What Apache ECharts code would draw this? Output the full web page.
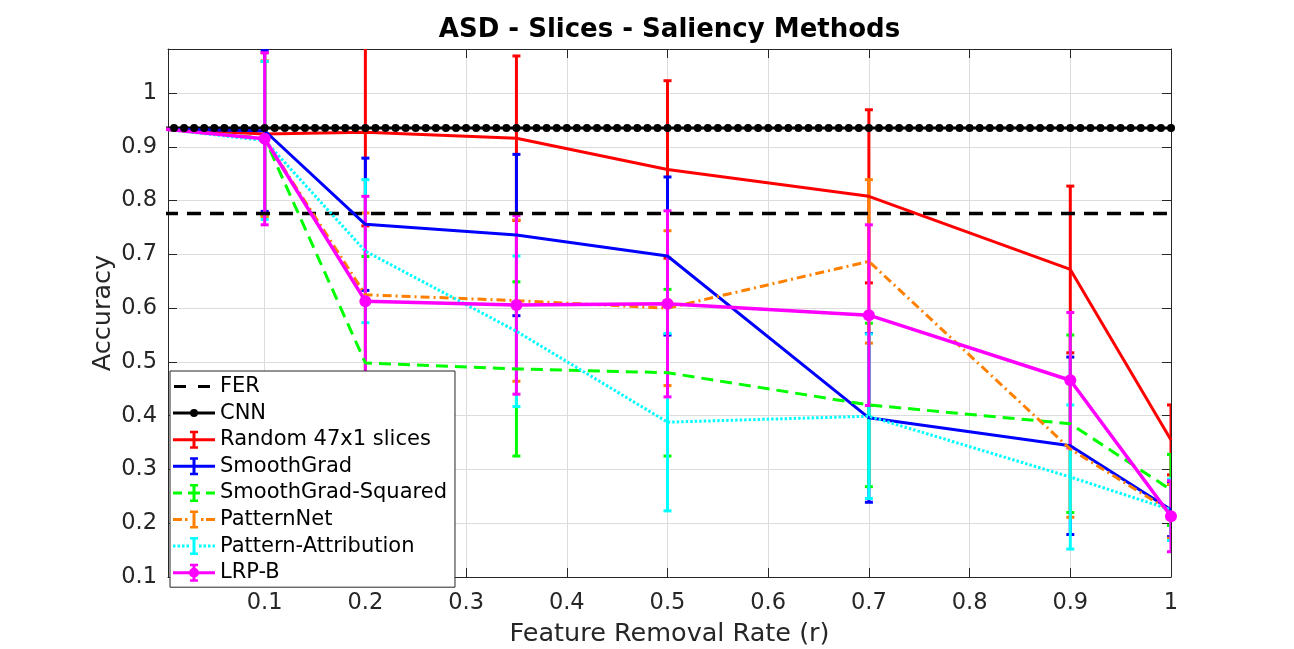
<!DOCTYPE html>
<html>
<head>
<meta charset="utf-8">
<title>ASD - Slices - Saliency Methods</title>
<script src="https://cdn.jsdelivr.net/npm/echarts@6/dist/echarts.min.js"></script>
<style>
  html, body { margin: 0; padding: 0; background: #fff; }
  #chart { width: 1294px; height: 649px; }
</style>
</head>
<body>
<div id="chart"></div>
<script>
// feature removal rates where the saliency methods were evaluated
const removalRate = [0, 0.1, 0.2, 0.35, 0.5, 0.7, 0.9, 1];

// reference lines
const ferX = [0, 1];
const ferAcc = 0.776;
const cnnAcc = 0.935;
const cnnX = [
  0, 0.01, 0.02, 0.03, 0.04, 0.05, 0.06, 0.07, 0.08, 0.09,
  0.1, 0.11, 0.12, 0.13, 0.14, 0.15, 0.16, 0.17, 0.18, 0.19,
  0.2, 0.21, 0.22, 0.23, 0.24, 0.25, 0.26, 0.27, 0.28, 0.29,
  0.3, 0.31, 0.32, 0.33, 0.34, 0.35, 0.36, 0.37, 0.38, 0.39,
  0.4, 0.41, 0.42, 0.43, 0.44, 0.45, 0.46, 0.47, 0.48, 0.49,
  0.5, 0.51, 0.52, 0.53, 0.54, 0.55, 0.56, 0.57, 0.58, 0.59,
  0.6, 0.61, 0.62, 0.63, 0.64, 0.65, 0.66, 0.67, 0.68, 0.69,
  0.7, 0.71, 0.72, 0.73, 0.74, 0.75, 0.76, 0.77, 0.78, 0.79,
  0.8, 0.81, 0.82, 0.83, 0.84, 0.85, 0.86, 0.87, 0.88, 0.89,
  0.9, 0.91, 0.92, 0.93, 0.94, 0.95, 0.96, 0.97, 0.98, 0.99, 1
];

// mean accuracy and error (half length of bar) per method
const randomMean = [0.933, 0.924, 0.927, 0.916, 0.858, 0.808, 0.672, 0.355];
const randomErr = [0, 0.151, 0.174, 0.153, 0.165, 0.161, 0.155, 0.065];

const smoothGradMean = [0.933, 0.930, 0.756, 0.736, 0.697, 0.396, 0.344, 0.225];
const smoothGradErr = [0, 0.150, 0.123, 0.150, 0.147, 0.157, 0.165, 0.050];

const sgSquaredMean = [0.933, 0.916, 0.498, 0.487, 0.480, 0.420, 0.385, 0.262];
const sgSquaredErr = [0, 0.143, 0.198, 0.162, 0.155, 0.152, 0.165, 0.066];

const patternNetMean = [0.933, 0.915, 0.625, 0.614, 0.600, 0.687, 0.338, 0.222];
const patternNetErr = [0, 0.145, 0.152, 0.150, 0.144, 0.152, 0.127, 0.050];

const patternAttrMean = [0.933, 0.912, 0.706, 0.557, 0.388, 0.399, 0.286, 0.225];
const patternAttrErr = [0, 0.147, 0.133, 0.140, 0.165, 0.153, 0.134, 0.057];

const lrpMean = [0.933, 0.915, 0.613, 0.606, 0.608, 0.587, 0.466, 0.213];
const lrpErr = [0, 0.160, 0.195, 0.166, 0.173, 0.168, 0.126, 0.066];

const legendNames = ['FER', 'CNN', 'Random 47x1 slices', 'SmoothGrad',
  'SmoothGrad-Squared', 'PatternNet', 'Pattern-Attribution', 'LRP-B'];

const font = 'DejaVu Sans';
const axisColor = '#262626';
const gridColor = '#dcdcdc';
const colors = ['#000000', '#000000', '#ff0000', '#0000ff', '#00ff00', '#ff8000', '#00ffff', '#ff00ff'];

// legend icons, all drawn in a 42x20 box (tiny corner squares keep the box size)
const box = 'M0 0h0.01v0.01h-0.01z M41.99 19.99h0.01v0.01h-0.01z ';
const solid = 'M0 8.5h42v3h-42z ';
const ibeam = 'M19.5 1h3v18h-3z M17 1h8v2.5h-8z M17 16.5h8v2.5h-8z ';
const legendIcons = [
  'path://' + box + 'M1 8.5h12v3h-12z M25 8.5h12v3h-12z',
  'path://' + box + solid + 'M17 10a4 4 0 1 1 8 0a4 4 0 1 1 -8 0z',
  'path://' + box + solid + ibeam,
  'path://' + box + solid + ibeam,
  'path://' + box + ibeam + 'M0 8.5h9v3h-9z M15 8.5h12v3h-12z M33 8.5h9v3h-9z',
  'path://' + box + ibeam + 'M0 8.5h9v3h-9z M12 8.5h2.5v3h-2.5z M28 8.5h2.5v3h-2.5z M33 8.5h9v3h-9z',
  'path://' + box + ibeam + 'M0 8.5h2.5v3h-2.5z M4.5 8.5h2.5v3h-2.5z M9 8.5h2.5v3h-2.5z M13.5 8.5h2.5v3h-2.5z M26 8.5h2.5v3h-2.5z M30.5 8.5h2.5v3h-2.5z M35 8.5h2.5v3h-2.5z M39.5 8.5h2.5v3h-2.5z',
  'path://' + box + solid + ibeam + 'M16 10a5 5 0 1 1 10 0a5 5 0 1 1 -10 0z'
];

function pairs(xs, ys) {
  return xs.map((x, i) => [x, ys[i]]);
}

function errorBar(name, color, mean, err) {
  return {
    name: name,
    type: 'custom',
    clip: true,
    z: 3,
    encode: { x: 0, y: 1 },
    data: removalRate.map((x, i) => [x, mean[i], err[i]]),
    renderItem: function (params, api) {
      const x = api.value(0);
      const y = api.value(1);
      const e = api.value(2);
      if (!(e > 0)) return null;
      const hi = api.coord([x, y + e]);
      const lo = api.coord([x, y - e]);
      const style = { stroke: color, lineWidth: 3, fill: null };
      return {
        type: 'group',
        children: [
          { type: 'line', shape: { x1: hi[0], y1: hi[1], x2: lo[0], y2: lo[1] }, style: style },
          { type: 'line', shape: { x1: hi[0] - 4, y1: hi[1], x2: hi[0] + 4, y2: hi[1] }, style: style },
          { type: 'line', shape: { x1: lo[0] - 4, y1: lo[1], x2: lo[0] + 4, y2: lo[1] }, style: style }
        ]
      };
    }
  };
}

function methodLine(name, color, mean, dash, width) {
  return {
    name: name,
    type: 'line',
    z: 3,
    data: pairs(removalRate, mean),
    showSymbol: false,
    symbol: 'none',
    lineStyle: { color: color, width: width || 3, type: dash || 'solid' },
    itemStyle: { color: color }
  };
}

const methods = [
  [legendNames[2], colors[2], randomMean, randomErr, 'solid'],
  [legendNames[3], colors[3], smoothGradMean, smoothGradErr, 'solid'],
  [legendNames[4], colors[4], sgSquaredMean, sgSquaredErr, [12, 7]],
  [legendNames[5], colors[5], patternNetMean, patternNetErr, [9, 4, 2, 4]],
  [legendNames[6], colors[6], patternAttrMean, patternAttrErr, [2.5, 2]],
];

const series = [
  {
    name: 'FER',
    type: 'line',
    z: 3,
    data: ferX.map(x => [x, ferAcc]),
    symbol: 'none',
    lineStyle: { color: '#000', width: 3.5, type: [14, 9] },
    itemStyle: { color: '#000' }
  },
  {
    name: 'CNN',
    type: 'line',
    z: 3,
    data: cnnX.map(x => [x, cnnAcc]),
    symbol: 'circle',
    symbolSize: 8,
    showAllSymbol: true,
    lineStyle: { color: '#000', width: 3 },
    itemStyle: { color: '#000' }
  }
];

methods.forEach(m => {
  series.push(methodLine(m[0], m[1], m[2], m[4]));
  series.push(errorBar(m[0], m[1], m[2], m[3]));
});

// LRP-B drawn last, with circle markers
const lrpLine = methodLine(legendNames[7], colors[7], lrpMean, 'solid', 3.5);
lrpLine.showSymbol = true;
lrpLine.symbol = 'circle';
lrpLine.symbolSize = 12;
series.push(lrpLine);
series.push(errorBar(legendNames[7], colors[7], lrpMean, lrpErr));

const chart = echarts.init(document.getElementById('chart'), null, { renderer: 'canvas' });

const boxAxis = {
  axisLine: { show: true, onZero: false, lineStyle: { color: axisColor, width: 1 } },
  axisTick: { show: true, inside: true, length: 9, lineStyle: { color: axisColor } },
};

const option = {
  animation: false,
  backgroundColor: '#fff',
  grid: { left: 168, right: 123, top: 49, bottom: 72, containLabel: false, outerBoundsMode: 'none' },
  xAxis: [
    Object.assign({
      type: 'value',
      position: 'bottom',
      min: 0.004,
      max: 1,
      splitNumber: 10,
      axisLabel: { showMinLabel: false, fontFamily: font, fontSize: 22.5, color: axisColor, margin: 15 },
      splitLine: { show: true, lineStyle: { color: gridColor, width: 1 } },
      name: 'Feature Removal Rate (r)',
      nameLocation: 'middle',
      nameGap: 44,
      nameMoveOverlap: false,
      nameTextStyle: { fontFamily: font, fontSize: 25.5, color: axisColor }
    }, boxAxis),
    Object.assign({
      type: 'value',
      position: 'top',
      min: 0.004,
      max: 1,
      splitNumber: 10,
      axisLabel: { show: false },
      splitLine: { show: false },
      name: 'ASD - Slices - Saliency Methods',
      nameLocation: 'middle',
      nameGap: 6,
      nameMoveOverlap: false,
      nameTextStyle: { fontFamily: font, fontSize: 26, fontWeight: 'bold', color: '#000' }
    }, boxAxis)
  ],
  yAxis: [
    Object.assign({
      type: 'value',
      position: 'left',
      min: 0.1,
      max: 1.082,
      interval: 0.1,
      axisLabel: { showMaxLabel: false, fontFamily: font, fontSize: 22.5, color: axisColor, margin: 11 },
      splitLine: { show: true, lineStyle: { color: gridColor, width: 1 } },
      name: 'Accuracy',
      nameLocation: 'middle',
      nameGap: 52,
      nameMoveOverlap: false,
      nameTextStyle: { fontFamily: font, fontSize: 25.5, color: axisColor }
    }, boxAxis),
    Object.assign({
      type: 'value',
      position: 'right',
      min: 0.1,
      max: 1.082,
      interval: 0.1,
      axisLabel: { show: false },
      splitLine: { show: false }
    }, boxAxis)
  ],
  legend: {
    orient: 'vertical',
    left: 170,
    top: 371,
    padding: [5, 8, 4, 3],
    itemGap: 5.6,
    itemWidth: 42,
    itemHeight: 20,
    backgroundColor: '#fff',
    borderColor: axisColor,
    borderWidth: 1,
    selectedMode: false,
    itemStyle: { borderWidth: 0 },
    textStyle: { fontFamily: font, fontSize: 21, color: '#000', lineHeight: 20 },
    data: legendNames.map((n, i) => ({ name: n, icon: legendIcons[i], itemStyle: { color: colors[i] } }))
  },
  series: series
};

chart.setOption(option);
window.addEventListener('resize', chart.resize);
</script>
</body>
</html>
